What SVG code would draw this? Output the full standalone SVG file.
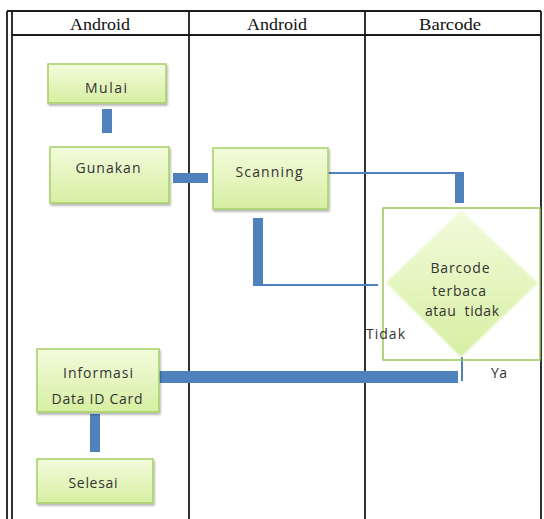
<svg xmlns="http://www.w3.org/2000/svg" width="544" height="519" viewBox="0 0 544 519">
<defs>
<linearGradient id="g" x1="0" y1="0" x2="0" y2="1">
<stop offset="0" stop-color="#f3fbdc"/>
<stop offset="1" stop-color="#d6efa2"/>
</linearGradient>
<filter id="sh" x="-10%" y="-10%" width="125%" height="135%">
<feDropShadow dx="1" dy="2" stdDeviation="1.2" flood-color="#000" flood-opacity="0.3"/>
</filter>
<filter id="soft" x="-5%" y="-5%" width="110%" height="110%">
<feGaussianBlur stdDeviation="0.8"/>
</filter>
<style>
.frame{stroke:#1a1a1a;stroke-width:1.8;fill:none}
.hdr{font-family:"Liberation Serif",serif;font-size:17px;fill:#111;text-anchor:middle}
.box{fill:url(#g);stroke:#a6cf68;stroke-width:1.5;filter:url(#sh)}
.t{font-family:"Open Sans","Liberation Sans",sans-serif;font-size:14px;fill:#333;text-anchor:middle}
.lbl{font-family:"Open Sans","Liberation Sans",sans-serif;font-size:14px;fill:#333}
.thick{fill:#4f81bd}
.thin{stroke:#4f81bd;stroke-width:2;fill:none}
</style>
</defs>
<g id="frame">
<line class="frame" x1="7" y1="11" x2="541" y2="11"/>
<line class="frame" x1="7" y1="11" x2="7" y2="519"/>
<line class="frame" x1="12" y1="11" x2="12" y2="519"/>
<line class="frame" x1="541" y1="11" x2="541" y2="519"/>
<line class="frame" x1="12" y1="35" x2="541" y2="35"/>
<line class="frame" x1="189" y1="11" x2="189" y2="519"/>
<line class="frame" x1="365" y1="11" x2="365" y2="519"/>
<text class="hdr" x="100" y="30" textLength="60" lengthAdjust="spacingAndGlyphs">Android</text>
<text class="hdr" x="277" y="30" textLength="60" lengthAdjust="spacingAndGlyphs">Android</text>
<text class="hdr" x="450" y="30" textLength="62" lengthAdjust="spacingAndGlyphs">Barcode</text>
</g>
<g id="connectors">
<rect class="thick" x="102" y="109" width="10" height="24"/>
<rect class="thick" x="173" y="173" width="35" height="10"/>
<polyline class="thin" points="328,173 460,173"/>
<rect class="thick" x="455" y="172" width="9" height="31"/>
<rect class="thick" x="253" y="218" width="10" height="68"/>
<polyline class="thin" points="263,285 378,285"/>
<polyline class="thin" points="462,357 462,381"/>
<rect class="thick" x="159" y="371" width="299" height="12"/>
<rect class="thick" x="90" y="414" width="10" height="38"/>
</g>
<g id="mulai">
<rect class="box" x="48" y="64" width="118" height="39"/>
<text class="t" x="106" y="93" textLength="42">Mulai</text>
</g>
<g id="gunakan">
<rect class="box" x="50" y="147" width="119" height="56"/>
<text class="t" x="108" y="173" textLength="65">Gunakan</text>
</g>
<g id="scanning">
<rect class="box" x="213" y="148" width="115" height="61"/>
<text class="t" x="269" y="177" textLength="67">Scanning</text>
</g>
<g id="decision">
<rect x="383" y="208" width="157" height="152" fill="none" stroke="#9bc75a" stroke-width="1.5"/>
<polygon points="461,210 538,283 461,357 386,283" fill="url(#g)" filter="url(#soft)"/>
<text class="t" x="460" y="273" textLength="59">Barcode</text>
<text class="t" x="459" y="296" textLength="54">terbaca</text>
<text class="t" x="462" y="316" textLength="74" xml:space="preserve">atau  tidak</text>
</g>
<g id="labels">
<text class="lbl" x="366" y="339" textLength="39">Tidak</text>
<text class="lbl" x="491" y="378" textLength="16">Ya</text>
</g>
<g id="informasi">
<rect class="box" x="37" y="349" width="122" height="63"/>
<text class="t" x="98" y="378" textLength="70">Informasi</text>
<text class="t" x="97" y="404" textLength="91">Data ID Card</text>
</g>
<g id="selesai">
<rect class="box" x="37" y="459" width="116" height="44"/>
<text class="t" x="93" y="488" textLength="49">Selesai</text>
</g>
</svg>
